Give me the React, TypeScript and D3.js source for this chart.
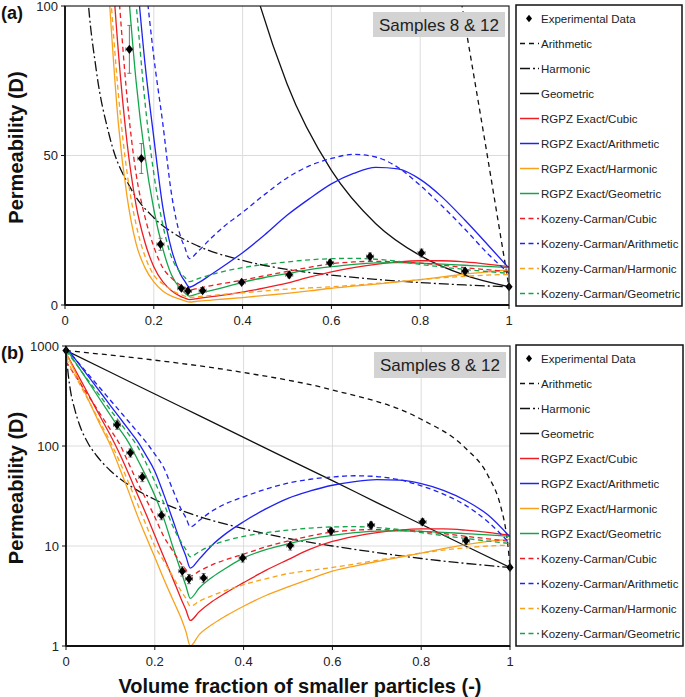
import React from 'react';
import * as d3 from 'd3';

// ---------- DATA ----------
const X_MODEL = [0, 0.02, 0.05, 0.08, 0.1, 0.12, 0.14, 0.16, 0.18, 0.2, 0.22, 0.24, 0.26, 0.27, 0.28, 0.3, 0.33, 0.36, 0.4, 0.45, 0.5, 0.55, 0.6, 0.65, 0.7, 0.75, 0.8, 0.85, 0.9, 0.95, 1];

const RGPZ_CUBIC = [850, 583, 331, 186, 128, 85, 54, 33.5, 21, 12.8, 7.8, 4.8, 2.9, 2.3, 1.8, 2.2, 2.8, 3.4, 4.3, 5.7, 7.3, 9.3, 11.1, 12.5, 13.6, 14.4, 14.8, 14.8, 14.4, 13.7, 12.8];
const RGPZ_ARITH = [980, 748, 499, 333, 254, 194, 148, 113, 81, 56, 33, 18.5, 10.3, 7.9, 6.0, 7.4, 10.3, 13.3, 17.5, 23.5, 30, 35.5, 40.5, 44, 46, 45.5, 42, 36, 28.5, 20.5, 12.3];
const RGPZ_HARM = [850, 555, 292, 153, 102, 61, 36, 20.6, 12.5, 7.7, 4.7, 2.95, 1.86, 1.4, 1.0, 1.3, 1.65, 2.0, 2.5, 3.2, 3.9, 4.7, 5.6, 6.3, 7.0, 7.7, 8.5, 9.4, 10.3, 11.1, 11.7];
const RGPZ_GEOM = [950, 698, 440, 277, 203, 149, 110, 75, 50, 32, 19, 10, 5.4, 4.0, 3.0, 3.8, 4.9, 6.0, 7.6, 9.2, 10.5, 11.8, 12.8, 13.6, 14.1, 14.2, 14.0, 13.7, 13.3, 12.9, 12.5];
const KC_CUBIC = [700, 512, 320, 200, 146, 106, 69, 44, 29.5, 19.5, 12.5, 9.0, 6.6, 5.8, 5.0, 5.6, 6.5, 7.3, 8.3, 9.8, 11.2, 12.6, 13.8, 14.4, 14.6, 14.4, 14.0, 13.3, 12.5, 11.8, 11.1];
const KC_ARITH = [950, 748, 522, 365, 287, 226, 178, 140, 110, 83, 61, 37, 23, 19.2, 15.5, 18, 22.5, 26.5, 31, 37, 42.5, 46.5, 49, 50.4, 49.5, 46, 40, 33, 25.5, 17.5, 10.6];
const KC_HARM = [750, 510, 288, 162, 110, 71, 44, 27, 16.4, 10, 7.1, 5.0, 3.5, 3.0, 2.5, 2.8, 3.2, 3.6, 4.1, 4.7, 5.3, 5.7, 6.1, 6.6, 7.2, 7.8, 8.5, 9.1, 9.6, 10.0, 10.2];
const KC_GEOM = [900, 684, 454, 302, 230, 175, 133, 101, 68, 44, 27, 16, 10.8, 9.2, 7.8, 8.8, 10.2, 11.3, 12.5, 13.6, 14.4, 15.1, 15.5, 15.6, 15.3, 14.6, 13.6, 12.7, 11.9, 11.2, 10.6];

const ARITH_X = [0, 0.2, 0.4, 0.6, 0.8, 0.9, 0.95, 0.98, 0.99, 0.995, 1];
const ARITH_Y = [900, 722, 543, 364, 185, 95, 51, 24, 15, 10.5, 6.1];
const GEOM_X = [0, 0.1, 0.2, 0.3, 0.4, 0.5, 0.6, 0.7, 0.8, 0.9, 1];
const GEOM_Y = [900, 546, 331, 201, 122, 74, 45, 27.2, 16.5, 10, 6.1];
const HARM_X = [0, 0.005, 0.01, 0.02, 0.03, 0.05, 0.07, 0.1, 0.15, 0.2, 0.25, 0.3, 0.4, 0.5, 0.6, 0.7, 0.8, 0.9, 1];
const HARM_Y = [900, 520, 360, 230, 165, 106, 79, 56.6, 38.5, 29.2, 23.5, 19.7, 14.9, 11.9, 10.0, 8.6, 7.5, 6.7, 6.1];

const EXP_X = [0, 0.115, 0.145, 0.172, 0.215, 0.262, 0.277, 0.31, 0.398, 0.505, 0.597, 0.687, 0.803, 0.901, 1];
const EXP_Y = [900, 163, 85.5, 49, 20.3, 5.6, 4.7, 4.8, 7.6, 10.1, 14.1, 16.2, 17.4, 11.3, 6.1];
const EXP_YERR = [0, 16, 8, 5, 2, 0.6, 0.5, 0.5, 0.7, 1, 1, 1.2, 1.3, 0.9, 0];
const EXP_XERR = [0, 0.008, 0.008, 0.008, 0.008, 0.008, 0.008, 0.008, 0.008, 0.008, 0.008, 0.008, 0.008, 0.008, 0];

const X_TICKS = [0, 0.2, 0.4, 0.6, 0.8, 1];
const X_TICK_LABELS = ['0', '0.2', '0.4', '0.6', '0.8', '1'];
const Y_TICKS_LIN = [0, 50, 100];
const Y_TICKS_LOG = [1, 10, 100, 1000];

const LEGEND_NAMES = ['Experimental Data', 'Arithmetic', 'Harmonic', 'Geometric', 'RGPZ Exact/Cubic', 'RGPZ Exact/Arithmetic', 'RGPZ Exact/Harmonic', 'RGPZ Exact/Geometric', 'Kozeny-Carman/Cubic', 'Kozeny-Carman/Arithmetic', 'Kozeny-Carman/Harmonic', 'Kozeny-Carman/Geometric'];

// ---------- STYLE ----------
const RED = '#ee1d23';
const BLUE = '#1f22f2';
const ORANGE = '#f8a21c';
const GREEN = '#14a54a';
const BLACK = '#111';
const FONT = "'Liberation Sans', Arial, Helvetica, sans-serif";
const DASH_BLACK = '5,4';
const DASH_DOT = '10,3,2,3';
const DASH_COL = '5,3.5';

type Series = { name: string; xs: number[]; ys: number[]; color: string; dash: string | null };
const SERIES: Series[] = [
  { name: 'Arithmetic', xs: ARITH_X, ys: ARITH_Y, color: BLACK, dash: DASH_BLACK },
  { name: 'Harmonic', xs: HARM_X, ys: HARM_Y, color: BLACK, dash: DASH_DOT },
  { name: 'Geometric', xs: GEOM_X, ys: GEOM_Y, color: BLACK, dash: null },
  { name: 'RGPZ Exact/Cubic', xs: X_MODEL, ys: RGPZ_CUBIC, color: RED, dash: null },
  { name: 'RGPZ Exact/Arithmetic', xs: X_MODEL, ys: RGPZ_ARITH, color: BLUE, dash: null },
  { name: 'RGPZ Exact/Harmonic', xs: X_MODEL, ys: RGPZ_HARM, color: ORANGE, dash: null },
  { name: 'RGPZ Exact/Geometric', xs: X_MODEL, ys: RGPZ_GEOM, color: GREEN, dash: null },
  { name: 'Kozeny-Carman/Cubic', xs: X_MODEL, ys: KC_CUBIC, color: RED, dash: DASH_COL },
  { name: 'Kozeny-Carman/Arithmetic', xs: X_MODEL, ys: KC_ARITH, color: BLUE, dash: DASH_COL },
  { name: 'Kozeny-Carman/Harmonic', xs: X_MODEL, ys: KC_HARM, color: ORANGE, dash: DASH_COL },
  { name: 'Kozeny-Carman/Geometric', xs: X_MODEL, ys: KC_GEOM, color: GREEN, dash: DASH_COL },
];

type PanelProps = {
  id: string; left: number; right: number; top: number; bottom: number; log: boolean;
  label: string; legend: { x: number; y: number; w: number; h: number };
  samples: { x: number; y: number; w: number; h: number };
  tickY: number;
};

function diamond(cx: number, cy: number, hw: number, hh: number) {
  return `M${cx},${cy - hh}L${cx + hw},${cy}L${cx},${cy + hh}L${cx - hw},${cy}Z`;
}

function Panel(p: PanelProps) {
  const xs = d3.scaleLinear().domain([0, 1]).range([p.left, p.right]);
  const ys = p.log
    ? d3.scaleLog().domain([1, 1000]).range([p.bottom, p.top])
    : d3.scaleLinear().domain([0, 100]).range([p.bottom, p.top]);
  const yTicks = p.log ? Y_TICKS_LOG : Y_TICKS_LIN;
  const line = d3.line<[number, number]>().x(d => xs(d[0])).y(d => ys(d[1])).curve(d3.curveMonotoneX);
  const clipId = `clip-${p.id}`;
  const midY = (p.top + p.bottom) / 2 - 8;

  return (
    <g>
      <defs>
        <clipPath id={clipId}>
          <rect x={p.left} y={p.top} width={p.right - p.left} height={p.bottom - p.top} />
        </clipPath>
      </defs>
      {X_TICKS.slice(1, -1).map(t => (
        <line key={'gx' + t} x1={xs(t)} x2={xs(t)} y1={p.top} y2={p.bottom} stroke="#dcdcdc" strokeWidth={1} />
      ))}
      {yTicks.slice(1, -1).map(t => (
        <line key={'gy' + t} x1={p.left} x2={p.right} y1={ys(t)} y2={ys(t)} stroke="#dcdcdc" strokeWidth={1} />
      ))}
      <g clipPath={`url(#${clipId})`}>
        {SERIES.map(s => (
          <path key={s.name} d={line(s.xs.map((x, i) => [x, s.ys[i]] as [number, number])) || ''}
            fill="none" stroke={s.color} strokeWidth={1.3}
            strokeDasharray={s.dash || undefined} />
        ))}
      </g>
      <rect x={p.samples.x} y={p.samples.y} width={p.samples.w} height={p.samples.h} fill="#d3d3d3" />
      <text x={p.samples.x + p.samples.w / 2} y={p.samples.y + p.samples.h / 2 + 6} textAnchor="middle"
        fontFamily={FONT} fontSize={17} fill="#222">Samples 8 &amp; 12</text>
      <g>
        {EXP_X.map((x, i) => {
          const cx = xs(x), cy = ys(EXP_Y[i]);
          const e = EXP_YERR[i], ex = EXP_XERR[i];
          return (
            <g key={'e' + i}>
              {e > 0 && (
                <g stroke="#777" strokeWidth={1}>
                  <line x1={cx} x2={cx} y1={ys(EXP_Y[i] + e)} y2={ys(EXP_Y[i] - e)} />
                  <line x1={cx - 2} x2={cx + 2} y1={ys(EXP_Y[i] + e)} y2={ys(EXP_Y[i] + e)} />
                  <line x1={cx - 2} x2={cx + 2} y1={ys(EXP_Y[i] - e)} y2={ys(EXP_Y[i] - e)} />
                </g>
              )}
              {ex > 0 && (
                <g stroke="#777" strokeWidth={1}>
                  <line x1={xs(x - ex)} x2={xs(x + ex)} y1={cy} y2={cy} />
                  <line x1={xs(x - ex)} x2={xs(x - ex)} y1={cy - 2} y2={cy + 2} />
                  <line x1={xs(x + ex)} x2={xs(x + ex)} y1={cy - 2} y2={cy + 2} />
                </g>
              )}
              <path d={diamond(cx, cy, 3.6, 4.6)} fill="#000" />
            </g>
          );
        })}
      </g>
      <rect x={p.left} y={p.top} width={p.right - p.left} height={p.bottom - p.top} fill="none" stroke="#222" strokeWidth={1.2} />
      <line x1={p.left} x2={p.left} y1={p.top} y2={p.bottom} stroke="#111" strokeWidth={1.8} />
      <line x1={p.left} x2={p.right} y1={p.bottom} y2={p.bottom} stroke="#111" strokeWidth={1.8} />
      {X_TICKS.map((t, i) => (
        <g key={'xt' + t}>
          <line x1={xs(t)} x2={xs(t)} y1={p.bottom} y2={p.bottom + 4} stroke="#111" strokeWidth={1} />
          <text x={xs(t)} y={p.tickY} textAnchor="middle" fontFamily={FONT} fontSize={13} fill="#222">{X_TICK_LABELS[i]}</text>
        </g>
      ))}
      {yTicks.map(t => (
        <g key={'yt' + t}>
          <line x1={p.left - 4} x2={p.left} y1={ys(t)} y2={ys(t)} stroke="#111" strokeWidth={1} />
          <text x={p.left - 7} y={ys(t) + 4.5} textAnchor="end" fontFamily={FONT} fontSize={13} fill="#222">{String(t)}</text>
        </g>
      ))}
      <text transform={`translate(23,${midY}) rotate(-90)`} textAnchor="middle" fontFamily={FONT}
        fontSize={20} fontWeight="bold" fill="#111">Permeability (D)</text>
      <text x={1} y={p.top + 13} fontFamily={FONT} fontSize={18} fontWeight="bold" fill="#111">{p.label}</text>
      <rect x={p.legend.x} y={p.legend.y} width={p.legend.w} height={p.legend.h} fill="#fff" stroke="#111" strokeWidth={1.5} />
      {LEGEND_NAMES.map((name, i) => {
        const cy = p.legend.y + 13.5 + i * 25;
        const s = SERIES.find(q => q.name === name);
        return (
          <g key={'lg' + name}>
            {i === 0 ? (
              <path d={diamond(529, cy, 3, 3.8)} fill="#000" />
            ) : (
              <line x1={520} x2={539} y1={cy} y2={cy} stroke={s!.color} strokeWidth={1.5}
                strokeDasharray={s!.dash || undefined} />
            )}
            <text x={541} y={cy + 4} fontFamily={FONT} fontSize={11.5} fill="#222">{name}</text>
          </g>
        );
      })}
    </g>
  );
}

export default function App() {
  return (
    <svg width={685} height={697} viewBox="0 0 685 697"
      style={{ position: 'absolute', left: 0, top: 0, background: '#fff' }}>
      <rect x={0} y={0} width={685} height={697} fill="#fff" />
      <Panel id="a" left={65} right={509} top={6} bottom={305} log={false} label="(a)"
        legend={{ x: 516, y: 5, w: 166, h: 301 }} samples={{ x: 373, y: 12, w: 132, h: 25 }} tickY={325} />
      <Panel id="b" left={66} right={510} top={346} bottom={646} log={true} label="(b)"
        legend={{ x: 516, y: 345, w: 167, h: 301 }} samples={{ x: 374, y: 352, w: 132, h: 26 }} tickY={666} />
      <text x={300} y={693} textAnchor="middle" fontFamily={FONT} fontSize={20} fontWeight="bold" fill="#111">
        Volume fraction of smaller particles (-)
      </text>
    </svg>
  );
}
